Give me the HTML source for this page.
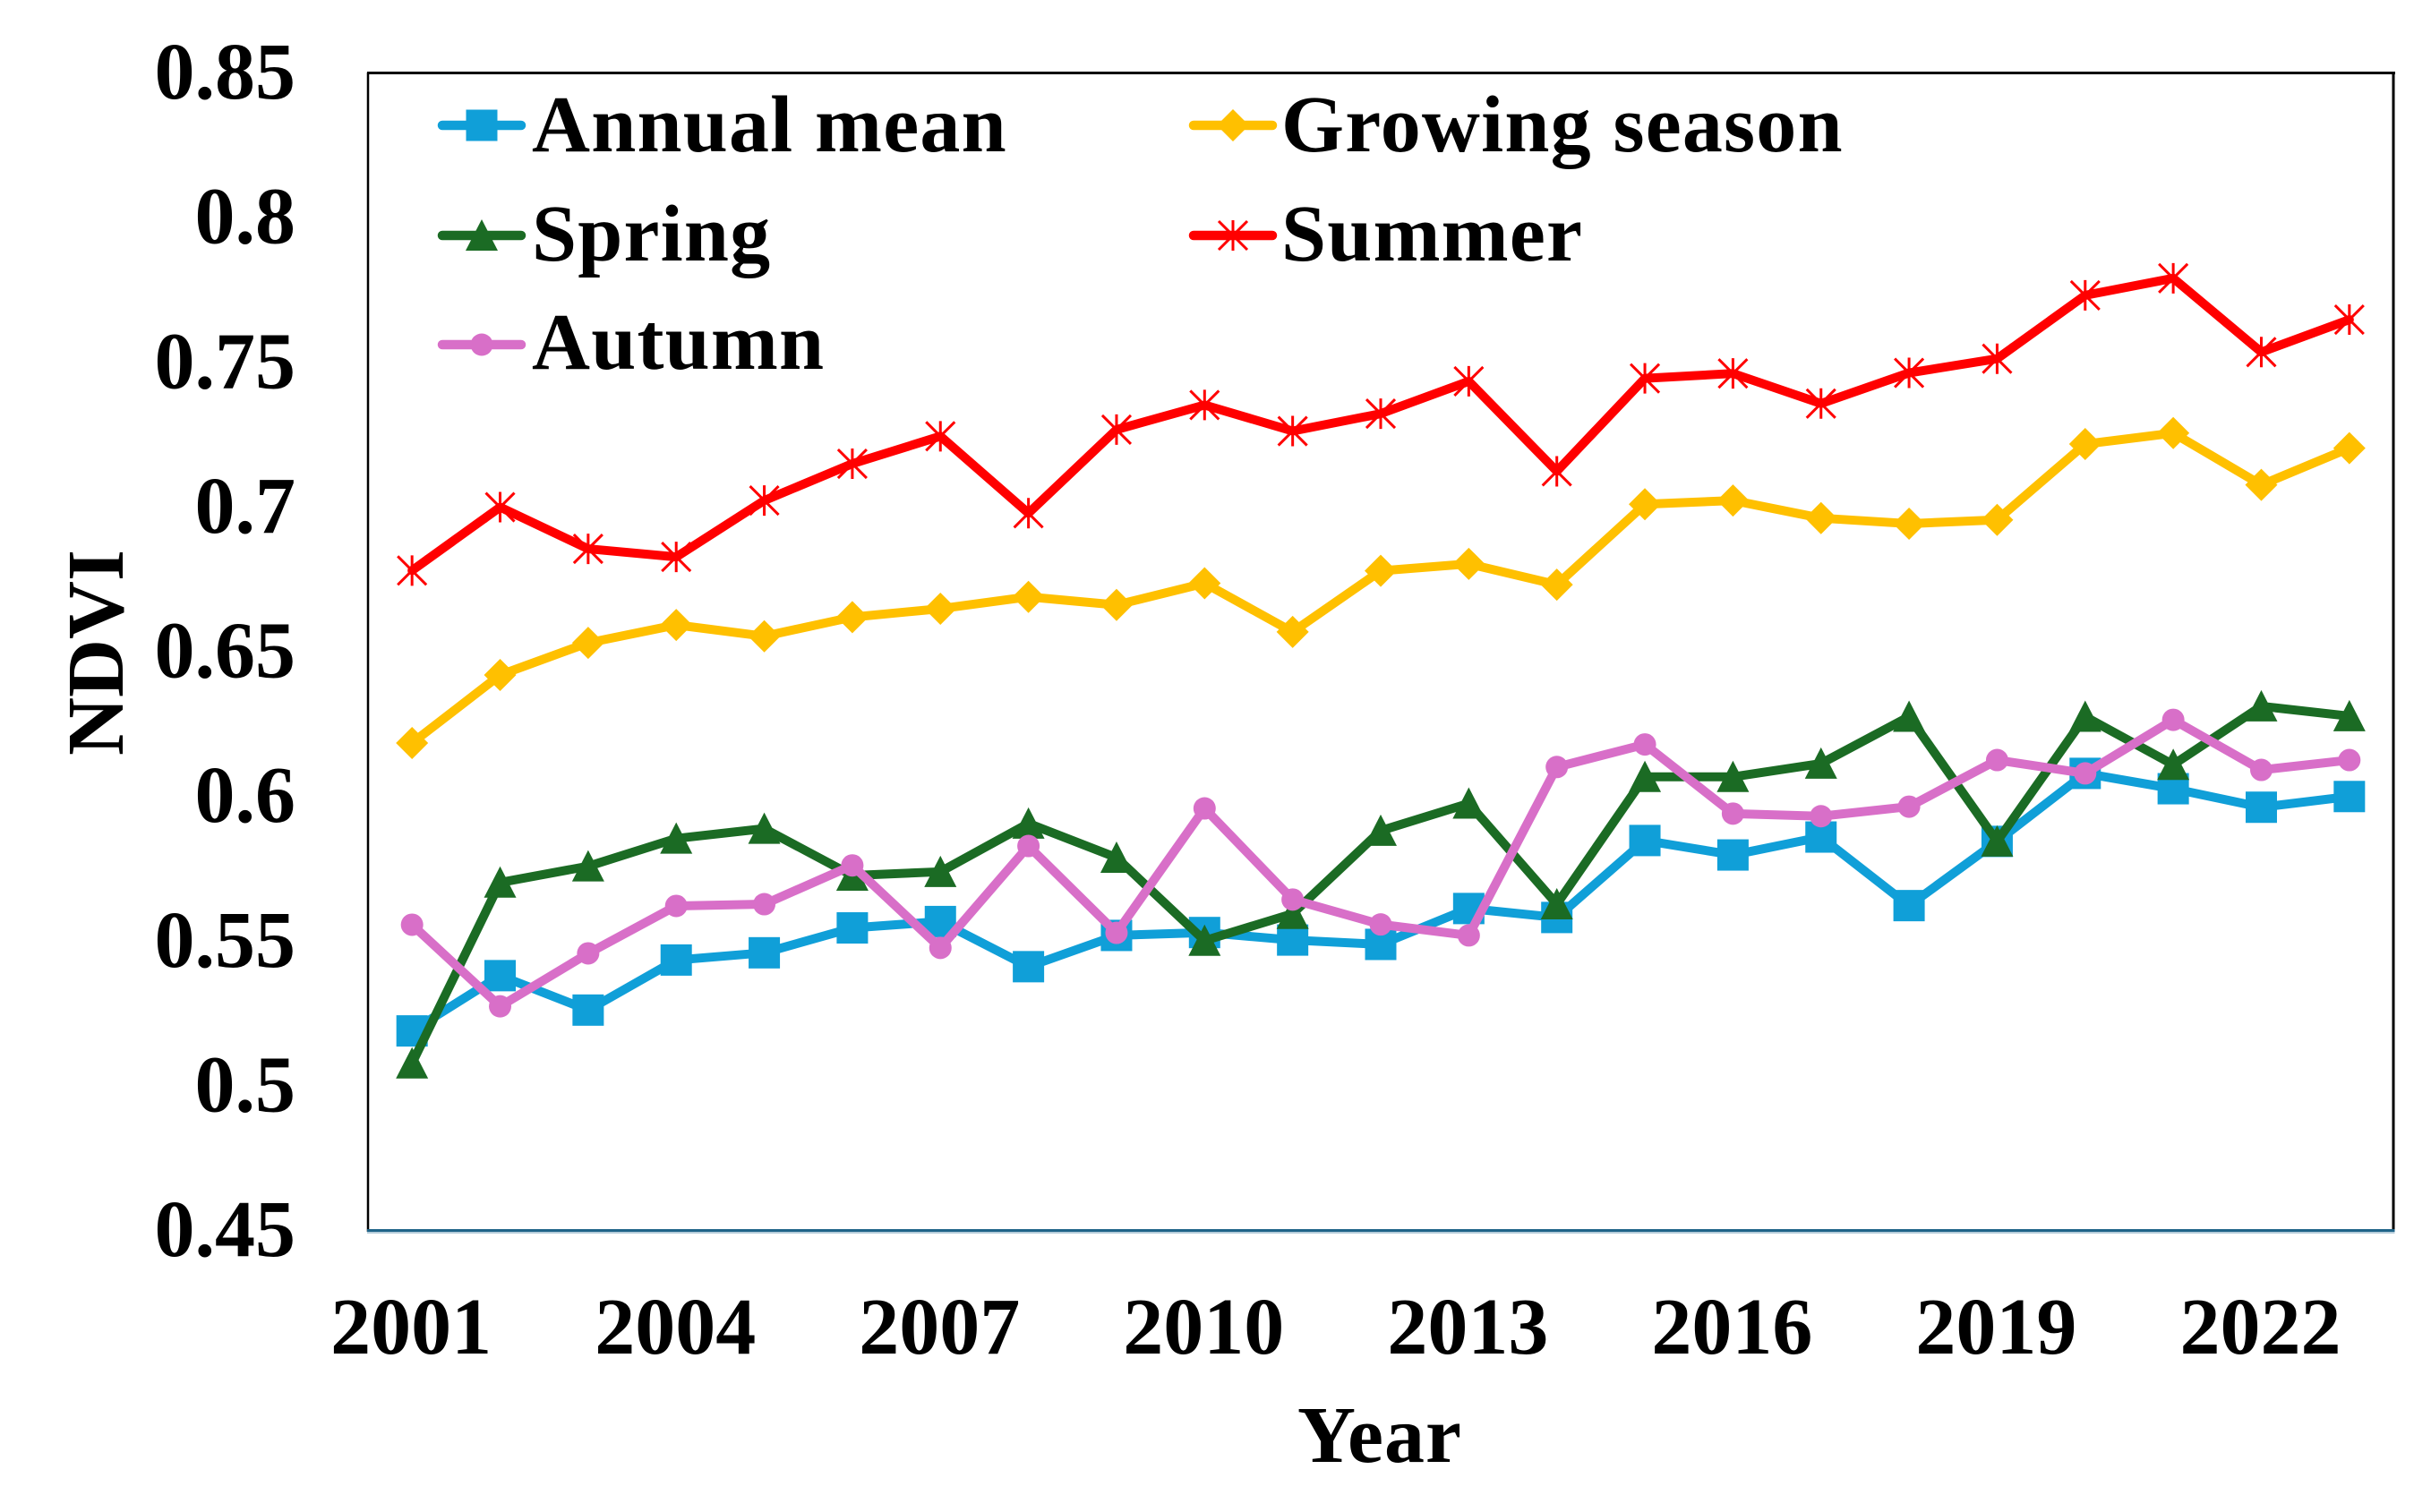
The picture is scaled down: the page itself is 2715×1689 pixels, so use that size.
<!DOCTYPE html>
<html lang="en">
<head>
<meta charset="utf-8">
<title>NDVI trends 2001-2023</title>
<style>
html,body{margin:0;padding:0;background:#fff;}
body{width:2715px;height:1689px;overflow:hidden;}
svg{display:block;}
text{font-family:"Liberation Serif",serif;font-weight:bold;fill:#000;font-size:90px;}
</style>
</head>
<body>
<svg id="chart" xmlns="http://www.w3.org/2000/svg" width="2715" height="1689" viewBox="0 0 2715 1689">
  <rect x="0" y="0" width="2715" height="1689" fill="#ffffff"/>
  <g id="plot-frame">
    <line x1="410" y1="81.5" x2="2675" y2="81.5" stroke="#000" stroke-width="3"/>
    <line x1="411" y1="81" x2="411" y2="1376" stroke="#000" stroke-width="2.5"/>
    <line x1="2673" y1="81" x2="2673" y2="1376" stroke="#000" stroke-width="3"/>
    <line x1="410" y1="1377" x2="2674.5" y2="1377" stroke="#b5ccd9" stroke-width="2"/>
    <line x1="410" y1="1374.5" x2="2674.5" y2="1374.5" stroke="#1f6388" stroke-width="3"/>
  </g>
  <g id="series-layer"></g>
  <g id="y-ticks"></g>
  <g id="x-ticks"></g>
  <text transform="translate(137,729) rotate(-90)" text-anchor="middle">NDVI</text>
  <text x="1541" y="1633" text-anchor="middle" letter-spacing="1">Year</text>
  <g id="legend"></g>
</svg>
<script>
const years = [2001,2002,2003,2004,2005,2006,2007,2008,2009,2010,2011,2012,2013,2014,2015,2016,2017,2018,2019,2020,2021,2022,2023];
const annualMean = [0.5188,0.5379,0.526,0.5433,0.5458,0.5544,0.5566,0.541,0.5518,0.5528,0.5502,0.5487,0.5611,0.558,0.5846,0.5796,0.5858,0.5621,0.5843,0.6078,0.6025,0.5961,0.5998];
const growingSeason = [0.6183,0.6418,0.6529,0.6591,0.6552,0.6618,0.6647,0.6688,0.666,0.6735,0.6567,0.6778,0.6802,0.673,0.7008,0.7021,0.696,0.6941,0.6954,0.7216,0.7254,0.7075,0.7202];
const spring = [0.5076,0.5701,0.5757,0.5853,0.5887,0.5725,0.5738,0.5905,0.5787,0.55,0.5593,0.588,0.5974,0.5626,0.6066,0.6066,0.6112,0.6274,0.5843,0.6274,0.6108,0.631,0.6276];
const summer = [0.6779,0.6998,0.6854,0.6826,0.7021,0.7148,0.7243,0.6977,0.7266,0.7351,0.7261,0.7321,0.7433,0.7122,0.7443,0.746,0.7356,0.7462,0.7511,0.773,0.7789,0.7534,0.7646];
const autumn = [0.5555,0.5273,0.5456,0.562,0.5626,0.576,0.5475,0.5827,0.5527,0.5957,0.5642,0.5556,0.5518,0.61,0.6178,0.5939,0.593,0.5963,0.6124,0.6078,0.6263,0.609,0.6124];
const yTickLabels = ['0.45','0.5','0.55','0.6','0.65','0.7','0.75','0.8','0.85'];
const xTickLabels = ['2001','2004','2007','2010','2013','2016','2019','2022'];
const seriesNames = ['Annual mean','Growing season','Spring','Summer','Autumn'];
const seriesValues = [annualMean,growingSeason,spring,summer,autumn];
const seriesColors = ['#109fd8','#ffc000','#1b6b24','#ff0000','#d86fc8'];
const seriesMarkers = ['square','diamond','triangle','star','circle'];
const drawOrder = [0,1,2,3,4];

const NS = 'http://www.w3.org/2000/svg';
const plotLeft = 411, plotWidth = 2262, plotTop = 81, plotBottom = 1374;
const yMin = 0.45, yMax = 0.85;
function xScale(year){
  const idx = years.indexOf(year);
  return plotLeft + (idx + 0.5) * plotWidth / years.length;
}
function yScale(v){
  return plotBottom - (v - yMin) / (yMax - yMin) * (plotBottom - plotTop);
}
function make(tag, attrs){
  const el = document.createElementNS(NS, tag);
  for (const k in attrs) el.setAttribute(k, attrs[k]);
  return el;
}
function drawMarker(parent, kind, cx, cy, color, label){
  let el;
  if (kind === 'square') {
    el = make('rect', {x: cx - 17.5, y: cy - 17.5, width: 35, height: 35, fill: color});
  } else if (kind === 'diamond') {
    el = make('polygon', {points: [cx, cy - 18, cx + 18, cy, cx, cy + 18, cx - 18, cy].join(' '), fill: color});
  } else if (kind === 'triangle') {
    el = make('polygon', {points: [cx, cy - 18, cx + 18, cy + 17, cx - 18, cy + 17].join(' '), fill: color});
  } else if (kind === 'circle') {
    el = make('circle', {cx: cx, cy: cy, r: 12.5, fill: color});
  } else {
    const d = 'M' + cx + ' ' + (cy - 17) + 'V' + (cy + 17) +
      'M' + (cx - 16) + ' ' + (cy - 16) + 'L' + (cx + 16) + ' ' + (cy + 16) +
      'M' + (cx + 16) + ' ' + (cy - 16) + 'L' + (cx - 16) + ' ' + (cy + 16);
    el = make('path', {d: d, fill: 'none', stroke: color, 'stroke-width': 3});
  }
  
  
  parent.appendChild(el);
}
function slug(s){ return s.toLowerCase().replace(/\s+/g, '-'); }

const seriesLayer = document.getElementById('series-layer');
drawOrder.forEach(function(si){
  const values = seriesValues[si];
  const name = slug(seriesNames[si]);
  const group = make('g', {});
  
  
  const pts = values.map(function(v, i){ return xScale(years[i]) + ',' + yScale(v); }).join(' ');
  const line = make('polyline', {points: pts, fill: 'none', stroke: seriesColors[si], 'stroke-width': 10, 'stroke-linejoin': 'round', 'stroke-linecap': 'round'});
  
  
  group.appendChild(line);
  values.forEach(function(v, i){
    drawMarker(group, seriesMarkers[si], xScale(years[i]), yScale(v), seriesColors[si], name + '-point-' + years[i]);
  });
  seriesLayer.appendChild(group);
});

const yTicks = document.getElementById('y-ticks');
yTickLabels.forEach(function(label){
  const t = make('text', {x: 330, y: yScale(parseFloat(label)) + 29, 'text-anchor': 'end'});
  t.textContent = label;
  
  
  yTicks.appendChild(t);
});

const xTicks = document.getElementById('x-ticks');
xTickLabels.forEach(function(label){
  const t = make('text', {x: xScale(parseInt(label, 10)) - 1, y: 1512, 'text-anchor': 'middle'});
  t.textContent = label;
  
  
  xTicks.appendChild(t);
});

const legend = document.getElementById('legend');
const legendColumnX = [[489,587,594],[1328,1426,1431]];
const legendRowY = [140,263,385];
const legendBaselineY = [169,291,412];
seriesNames.forEach(function(label, si){
  const col = si % 2, row = Math.floor(si / 2);
  const cols = legendColumnX[col], cy = legendRowY[row];
  const name = slug(label);
  const entry = make('g', {});
  
  
  const ln = make('line', {x1: cols[0] + 5, y1: cy, x2: cols[1] - 5, y2: cy, stroke: seriesColors[si], 'stroke-width': 10.5, 'stroke-linecap': 'round'});
  
  
  entry.appendChild(ln);
  drawMarker(entry, seriesMarkers[si], (cols[0] + cols[1]) / 2, cy, seriesColors[si], 'legend-marker-' + name);
  const t = make('text', {x: cols[2], y: legendBaselineY[row], 'letter-spacing': 1.2});
  t.textContent = label;
  
  
  entry.appendChild(t);
  legend.appendChild(entry);
});
</script>
</body>
</html>
